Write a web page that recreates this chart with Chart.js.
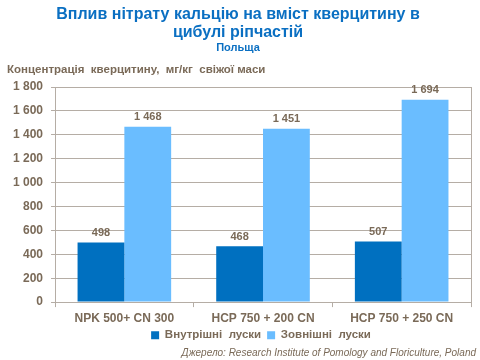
<!DOCTYPE html>
<html>
<head>
<meta charset="utf-8">
<script src="https://cdn.jsdelivr.net/npm/chart.js@4/dist/chart.umd.min.js"></script>
<style>
  body { margin: 0; background: #fff; }
  #wrap { width: 480px; height: 360px; }
</style>
</head>
<body>
<div id="wrap"><canvas id="quercetinChart" width="480" height="360"></canvas></div>
<script>
const categories = ['NPK 500+ CN 300', 'HCP 750 + 200 CN', 'HCP 750 + 250 CN'];
const innerScales = [498, 468, 507];
const outerScales = [1468, 1451, 1694];
const yTicks = [0, 200, 400, 600, 800, 1000, 1200, 1400, 1600, 1800];

const textColor = '#7a6a58';
const gridColor = '#b5ada5';
const fontFamily = '"Liberation Sans", Arial, sans-serif';

function fmt(v) {
  return String(v).replace(/\B(?=(\d{3})+(?!\d))/g, ' ');
}

// labels above bars, y-axis caption, right frame, source line
const extras = {
  id: 'extras',
  afterLayout(chart) {
    // legend is centred under the plot area, not the canvas, and sits close to the x labels
    const shift = (chart.chartArea.left + chart.chartArea.right) / 2 - chart.width / 2;
    chart.legend.left += shift;
    chart.legend.right += shift;
    chart.legend.top -= 6;
    chart.legend.bottom -= 6;
  },
  afterDatasetsDraw(chart) {
    const ctx = chart.ctx;
    ctx.save();
    ctx.font = 'bold 11px ' + fontFamily;
    ctx.fillStyle = textColor;
    ctx.textAlign = 'center';
    ctx.textBaseline = 'bottom';
    chart.data.datasets.forEach((ds, i) => {
      chart.getDatasetMeta(i).data.forEach((bar, j) => {
        ctx.fillText(fmt(ds.data[j]), bar.x, bar.y - 4);
      });
    });

    const area = chart.chartArea;
    ctx.strokeStyle = gridColor;
    ctx.lineWidth = 1;
    ctx.beginPath();
    ctx.moveTo(Math.round(area.right) + 0.5, area.top);
    ctx.lineTo(Math.round(area.right) + 0.5, area.bottom);
    ctx.stroke();

    ctx.textAlign = 'left';
    ctx.textBaseline = 'middle';
    ctx.font = 'bold 11.5px ' + fontFamily;
    ctx.fillText('Концентрація  кверцитину,  мг/кг  свіжої маси', 7, 70);

    ctx.textAlign = 'right';
    ctx.font = 'italic 10px ' + fontFamily;
    ctx.fillText('Джерело: Research Institute of Pomology and Floriculture, Poland', 476, 353);
    ctx.restore();
  }
};

const ctx = document.getElementById('quercetinChart').getContext('2d');
const chart = new Chart(ctx, {
  type: 'bar',
  data: {
    labels: categories,
    datasets: [{
      label: 'Внутрішні  луски',
      data: innerScales,
      backgroundColor: '#0070c0',
      categoryPercentage: 0.675,
      barPercentage: 1
    }, {
      label: 'Зовнішні  луски',
      data: outerScales,
      backgroundColor: '#6abdff',
      categoryPercentage: 0.675,
      barPercentage: 1
    }]
  },
  plugins: [extras],
  options: {
    responsive: false,
    animation: false,
    layout: { padding: { left: 5, right: 9, top: 2, bottom: 3 } },
    scales: {
      y: {
        min: 0,
        max: 1800,
        afterBuildTicks: axis => { axis.ticks = yTicks.map(v => ({ value: v })); },
        ticks: {
          callback: v => fmt(v),
          color: textColor,
          font: { family: fontFamily, size: 12, weight: 'bold' },
          padding: 8
        },
        grid: { color: gridColor, tickLength: 4 },
        border: { color: gridColor }
      },
      x: {
        ticks: {
          color: textColor,
          font: { family: fontFamily, size: 12, weight: 'bold' },
          padding: 4
        },
        grid: { color: gridColor, drawOnChartArea: false, tickLength: 5, offset: true },
        border: { color: gridColor }
      }
    },
    plugins: {
      title: {
        display: true,
        text: ['Вплив нітрату кальцію на вміст кверцитину в', 'цибулі ріпчастій'],
        color: '#0a6fc2',
        font: { family: fontFamily, size: 16, weight: 'bold', lineHeight: 1.15 },
        padding: { top: 3, bottom: 0 }
      },
      subtitle: {
        display: true,
        text: 'Польща',
        color: '#0a6fc2',
        font: { family: fontFamily, size: 11, weight: 'bold' },
        padding: { top: 0, bottom: 32 }
      },
      legend: {
        position: 'bottom',
        labels: {
          color: textColor,
          font: { family: fontFamily, size: 11.5, weight: 'bold' },
          boxWidth: 8,
          boxHeight: 8,
          padding: 6
        }
      },
      tooltip: { enabled: false }
    }
  }
});
</script>
</body>
</html>
